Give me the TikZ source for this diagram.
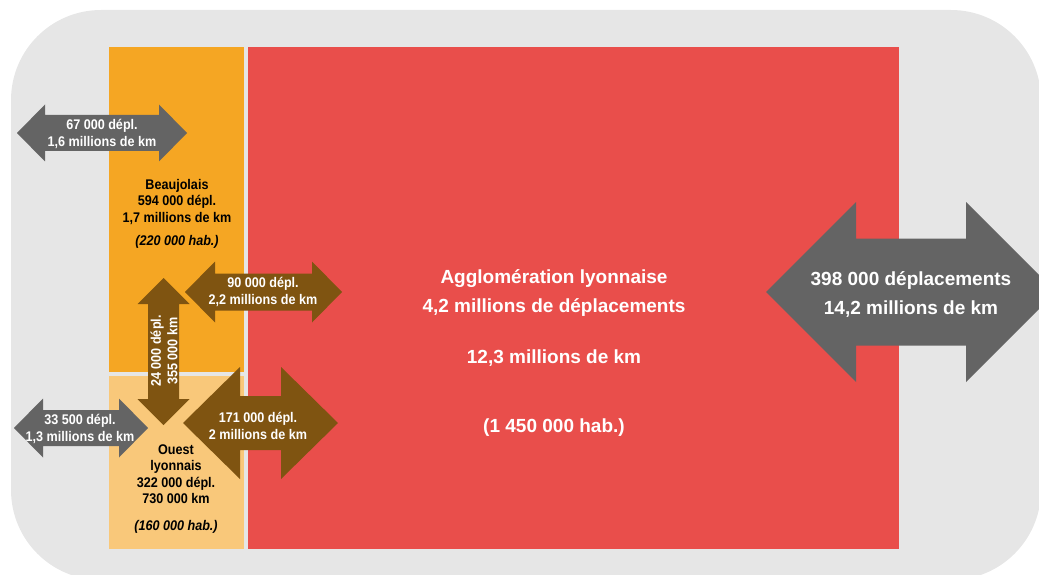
\documentclass[tikz,border=0pt]{standalone}
\usepackage{fontspec}
\setmainfont{Liberation Sans}
\newfontfamily\condfont[FakeStretch=0.9]{Liberation Sans}
\definecolor{bggray}{HTML}{E6E6E6}
\definecolor{orangeA}{HTML}{F5A623}
\definecolor{orangeB}{HTML}{F9C87A}
\definecolor{redA}{HTML}{E94E4B}
\definecolor{brownA}{HTML}{7F5411}
\definecolor{grayA}{HTML}{646464}
% horizontal double arrow: colour, x1, x2, y, shaft half, head half, head length
\newcommand{\hdarrow}[7]{%
  \fill[#1] (#2,#4) -- (#2+#7,#4-#6) -- (#2+#7,#4-#5) -- (#3-#7,#4-#5) -- (#3-#7,#4-#6)
   -- (#3,#4) -- (#3-#7,#4+#6) -- (#3-#7,#4+#5) -- (#2+#7,#4+#5) -- (#2+#7,#4+#6) -- cycle;}
% vertical double arrow: colour, x, y1, y2, shaft half, head half, head length
\newcommand{\vdarrow}[7]{%
  \fill[#1] (#2,#3) -- (#2+#6,#3+#7) -- (#2+#5,#3+#7) -- (#2+#5,#4-#7) -- (#2+#6,#4-#7)
   -- (#2,#4) -- (#2-#6,#4-#7) -- (#2-#5,#4-#7) -- (#2-#5,#3+#7) -- (#2-#6,#3+#7) -- cycle;}
\tikzset{
  small/.style={font=\condfont\bfseries\fontsize{14}{16.5}\selectfont, align=center, inner sep=0pt},
  big/.style={font=\bfseries\fontsize{19}{29}\selectfont, align=center, inner sep=0pt, text=white},
  wlabel/.style={small, text=white},
  blabel/.style={small, text=black},
}
\begin{document}
\begin{tikzpicture}[x=1pt,y=-1pt]
\useasboundingbox (0,0) rectangle (1039,575);
\fill[bggray, rounded corners=90pt] (11,10) rectangle (1041,580);
% boxes
\fill[orangeA] (109,47) rectangle (244,372);
\fill[orangeB] (109,376) rectangle (244,549);
\fill[redA] (248,47) rectangle (899,549);
% arrows
\hdarrow{grayA}{17}{187}{133}{18}{28.5}{28}
\hdarrow{grayA}{14}{148}{428}{18}{29.5}{29}
\vdarrow{brownA}{163.5}{278}{425}{15.5}{26}{26}
\hdarrow{brownA}{185}{342}{292}{18.5}{30.5}{30}
\hdarrow{brownA}{183}{338}{423}{27}{56}{57}
\hdarrow{grayA}{766}{1056}{292}{53.5}{90}{90}
% labels
\node[wlabel] (t67) at (102,134) {67 000 dépl.\\1,6 millions de km};
\node[wlabel] (t33) at (80,429) {33 500 dépl.\\1,3 millions de km};
\node[wlabel] (t90) at (263,292) {90 000 dépl.\\2,2 millions de km};
\node[wlabel] (t171) at (258,426) {171 000 dépl.\\2 millions de km};
\node[wlabel, rotate=90] (t24) at (164,351) {24 000 dépl.\\355 000 km};
\node[blabel] (beau) at (177,214) {Beaujolais\\594 000 dépl.\\1,7 millions de km\\[7pt]\itshape (220 000 hab.)};
\node[blabel] (ouest) at (176,489) {Ouest\\lyonnais\\322 000 dépl.\\730 000 km\\[10pt]\itshape (160 000 hab.)};
\node[big] (agglo) at (554,293) {Agglomération lyonnaise\\4,2 millions de déplacements};
\node[big] (km) at (554,358) {12,3 millions de km};
\node[big] (hab) at (554,428) {(1 450 000 hab.)};
\node[big] (t398) at (911,295) {398 000 déplacements\\14,2 millions de km};
\end{tikzpicture}
\end{document}
